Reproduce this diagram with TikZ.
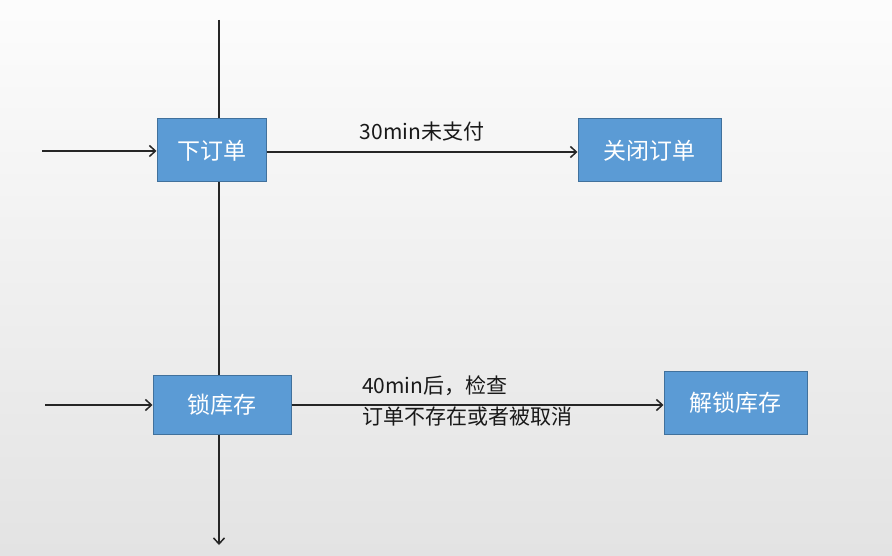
\documentclass[tikz,border=0pt]{standalone}
\usepackage{fontspec}
\setmainfont{Noto Sans CJK SC}
\usetikzlibrary{positioning,arrows.meta}

\definecolor{boxblue}{RGB}{91,155,213}
\definecolor{boxedge}{RGB}{65,113,156}

\tikzset{
  stepbox/.style={draw=boxedge, line width=1pt, fill=boxblue,
    text=white, inner sep=0pt, font=\fontsize{23}{27}\selectfont},
  flow/.style={-{Straight Barb[length=6pt,width=11pt]}, line width=1.5pt, black!85},
  note/.style={font=\fontsize{21}{31}\selectfont, text=black!90, inner sep=0pt}
}

\begin{document}
\begin{tikzpicture}[x=1pt,y=-1pt]
   \shade[top color=white!99!black, bottom color=white!89!black] (0,0) rectangle (892,556);
   \useasboundingbox (0,0) rectangle (892,556);
   % spine
   \coordinate (top) at (219,20);
   \coordinate (bottom) at (219,545);
   \draw[flow] (top) -- (bottom);
   % first row
   \node[stepbox, minimum width=109pt, minimum height=63pt] (order) at (211.5,150.5) {下订单};
   \node[stepbox, minimum width=143pt, minimum height=63pt] (close) at (649.5,150.5) {关闭订单};
   \coordinate (in1) at (42,151);
   \draw[flow] (in1) -- (order.west |- in1);
   \draw[flow] (order.east |- 0,152) -- node[note, above=10pt] {30min未支付} (close.west |- 0,152);
   % second row
   \node[stepbox, minimum width=138pt, minimum height=59pt] (lock) at (222,404.5) {锁库存};
   \node[stepbox, minimum width=143pt, minimum height=63pt] (unlock) at (735.5,402.5) {解锁库存};
   \coordinate (in2) at (45,405);
   \draw[flow] (in2) -- (lock.west |- in2);
   \draw[flow] (lock.east |- 0,405) -- (unlock.west |- 0,405);
   \node[note, anchor=west, align=left] (check) at (362,401) {40min后，检查\\订单不存在或者被取消};
\end{tikzpicture}
\end{document}
